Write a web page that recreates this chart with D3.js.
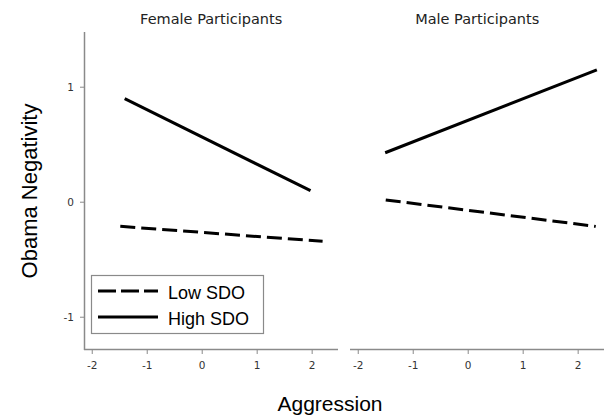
<!DOCTYPE html>
<html>
<head>
<meta charset="utf-8">
<script src="https://d3js.org/d3.v7.min.js"></script>
<style>
  body { margin: 0; background: #fff; }
  svg text { font-family: "DejaVu Sans", sans-serif; }
</style>
</head>
<body>
<svg id="chart" width="604" height="415"></svg>
<script>
// panels and series
var panels = ["Female Participants", "Male Participants"];
var seriesNames = ["Low SDO", "High SDO"];
var xTicks = [-2, -1, 0, 1, 2];
var yTicks = [-1, 0, 1];
// endpoints [x, y] of each simple slope line
var femaleLow  = [[-1.49, -0.21], [2.19, -0.34]];
var femaleHigh = [[-1.41, 0.90], [1.97, 0.10]];
var maleLow    = [[-1.50, 0.02], [2.32, -0.21]];
var maleHigh   = [[-1.51, 0.43], [2.34, 1.15]];

var panelData = [
  { title: panels[0], lines: [femaleLow, femaleHigh] },
  { title: panels[1], lines: [maleLow, maleHigh] }
];

var svg = d3.select("#chart");
var axisColor = "#8a8a8a";
var sansFont = "'Liberation Sans', Arial, sans-serif";

var y = d3.scaleLinear().domain([-1.285, 1.48]).range([350, 32]);
var panelLeft = [84, 350];
var panelWidth = 254;

var dash = ["15,6", null];

panelData.forEach(function(p, i) {
  var x = d3.scaleLinear().domain([-2.15, 2.47]).range([panelLeft[i], panelLeft[i] + panelWidth]);
  var g = svg.append("g");

  // x axis
  g.append("line")
    .attr("x1", x.range()[0]).attr("x2", x.range()[1])
    .attr("y1", 349.5).attr("y2", 349.5)
    .attr("stroke", axisColor).attr("stroke-width", 1.5);
  g.selectAll("line.xt").data(xTicks).enter().append("line")
    .attr("class", "xt")
    .attr("x1", d => x(d)).attr("x2", d => x(d))
    .attr("y1", 350).attr("y2", 354)
    .attr("stroke", axisColor).attr("stroke-width", 1);
  g.selectAll("text.xl").data(xTicks).enter().append("text")
    .attr("class", "xl")
    .attr("x", d => x(d)).attr("y", 369)
    .attr("text-anchor", "middle")
    .attr("font-size", 10.5).attr("fill", "#333")
    .text(d => d);

  // y axis only on first panel
  if (i == 0) {
    g.append("line")
      .attr("x1", 84.5).attr("x2", 84.5)
      .attr("y1", 32).attr("y2", 350)
      .attr("stroke", axisColor).attr("stroke-width", 1.5);
    g.selectAll("line.yt").data(yTicks).enter().append("line")
      .attr("class", "yt")
      .attr("x1", 80).attr("x2", 84)
      .attr("y1", d => y(d)).attr("y2", d => y(d))
      .attr("stroke", axisColor).attr("stroke-width", 1);
    g.selectAll("text.yl").data(yTicks).enter().append("text")
      .attr("class", "yl")
      .attr("x", 74).attr("y", d => y(d) + 4)
      .attr("text-anchor", "end")
      .attr("font-size", 10.5).attr("fill", "#333")
      .text(d => d);
  }

  // panel title
  g.append("text")
    .attr("x", x(0) + 9).attr("y", 24)
    .attr("text-anchor", "middle")
    .attr("font-size", 14.5).attr("fill", "#222")
    .text(p.title);

  // lines
  var lineGen = d3.line().x(d => x(d[0])).y(d => y(d[1]));
  g.selectAll("path.slope").data(p.lines).enter().append("path")
    .attr("class", "slope")
    .attr("d", lineGen)
    .attr("fill", "none")
    .attr("stroke", "#000")
    .attr("stroke-width", 3)
    .attr("stroke-dasharray", (d, j) => dash[j]);
});

// legend
var legend = svg.append("g");
legend.append("rect")
  .attr("x", 91.5).attr("y", 275.5)
  .attr("width", 172).attr("height", 58)
  .attr("fill", "#fff").attr("stroke", axisColor).attr("stroke-width", 1.2);
seriesNames.forEach(function(name, j) {
  var ly = 291 + j * 26;
  legend.append("line")
    .attr("x1", 98).attr("x2", 158)
    .attr("y1", ly).attr("y2", ly)
    .attr("stroke", "#000").attr("stroke-width", 3)
    .attr("stroke-dasharray", j == 0 ? "18,5" : null);
  legend.append("text")
    .attr("x", 168).attr("y", ly + 8)
    .attr("font-size", 18).attr("fill", "#000")
    .style("font-family", sansFont)
    .text(name);
});

// axis titles
svg.append("text")
  .attr("transform", "translate(37,191) rotate(-90)")
  .attr("text-anchor", "middle")
  .attr("font-size", 22)
  .style("font-family", sansFont)
  .text("Obama Negativity");
svg.append("text")
  .attr("x", 330).attr("y", 411)
  .attr("text-anchor", "middle")
  .attr("font-size", 21)
  .style("font-family", sansFont)
  .text("Aggression");
</script>
</body>
</html>
